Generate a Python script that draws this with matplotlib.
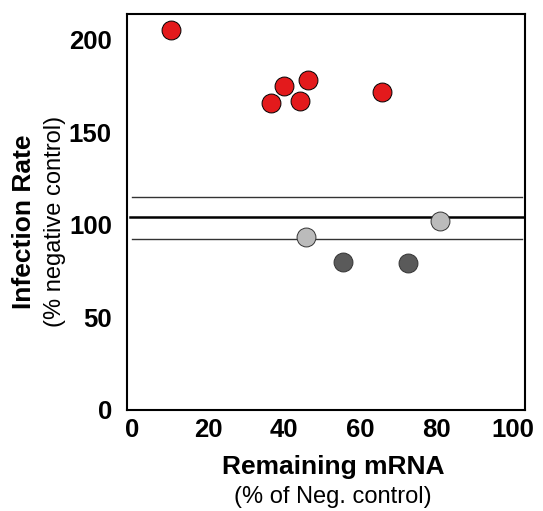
import matplotlib.pyplot as plt

plt.rcParams['font.family'] = ['Liberation Sans', 'DejaVu Sans']

# data
red_x = [10.2, 36.6, 39.9, 44.1, 46.2, 65.6]
red_y = [205, 166, 175, 167, 178, 172]
light_x = [45.6, 80.8]
light_y = [93.5, 101.8]
dark_x = [55.3, 72.4]
dark_y = [80, 79.5]

mean_line = 104
upper_line = 115
lower_line = 92.5

xticks = [0, 20, 40, 60, 80, 100]
yticks = [0, 50, 100, 150, 200]

fig = plt.figure(figsize=(5.43, 5.11), dpi=100)
ax = fig.add_axes([0.234, 0.198, 0.733, 0.775])

ax.plot([-0.5, 103.2], [mean_line, mean_line], color='black', lw=1.8, zorder=1)
ax.plot([0, 102.3], [upper_line, upper_line], color='#333333', lw=1.0, zorder=1)
ax.plot([0, 102.3], [lower_line, lower_line], color='#333333', lw=1.0, zorder=1)

ms = 185
ax.scatter(red_x, red_y, s=ms, color='#e31a1c', edgecolor='black', lw=0.7, zorder=3)
ax.scatter(light_x, light_y, s=ms, color='#bbbbbb', edgecolor='#333333', lw=0.7, zorder=3)
ax.scatter(dark_x, dark_y, s=ms, color='#5a5a5a', edgecolor='#333333', lw=0.7, zorder=3)

ax.set_xlim(-1.3, 103.2)
ax.set_ylim(0, 214)
ax.set_xticks(xticks)
ax.set_yticks(yticks)
ax.tick_params(length=0)
ax.tick_params(axis='y', pad=11)
ax.tick_params(axis='x', pad=6)
for lab in ax.get_xticklabels() + ax.get_yticklabels():
    lab.set_fontsize(18.5)
    lab.set_fontweight('bold')
for sp in ax.spines.values():
    sp.set_linewidth(1.5)

fig.text(0.613, 0.086, 'Remaining mRNA', ha='center', va='center', fontsize=19, fontweight='bold')
fig.text(0.613, 0.027, '(% of Neg. control)', ha='center', va='center', fontsize=17)
fig.text(0.044, 0.567, 'Infection Rate', ha='center', va='center', rotation=90, fontsize=19, fontweight='bold')
fig.text(0.101, 0.566, '(% negative control)', ha='center', va='center', rotation=90, fontsize=17)

fig.savefig('out.png', dpi=100)
